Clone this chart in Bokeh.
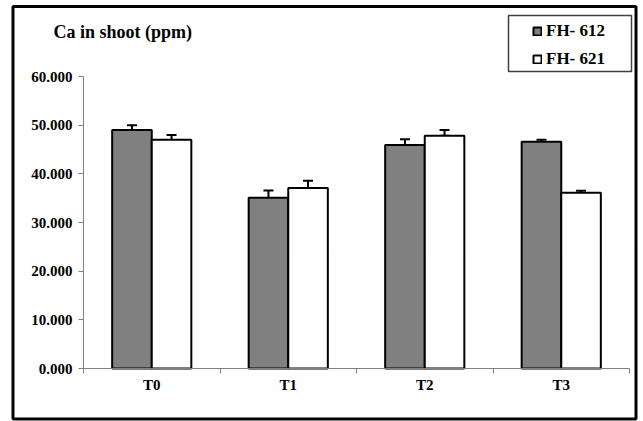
import numpy as np
from bokeh.plotting import figure
from bokeh.models import (ColumnDataSource, FixedTicker, NumeralTickFormatter,
                          Whisker, TeeHead, Legend, LegendItem, BoxAnnotation, Label)
from bokeh.embed import file_html
from bokeh.resources import INLINE

# ---- data ----
categories = ["T0", "T1", "T2", "T3"]
fh612 = [49.0, 35.1, 45.9, 46.6]
fh621 = [47.0, 37.1, 47.8, 36.1]
fh612_lo = [47.9, 33.5, 44.3, 46.2]
fh612_hi = [50.0, 36.6, 47.1, 47.0]
fh621_lo = [45.7, 32.0, 47.8, 35.8]
fh621_hi = [48.0, 38.6, 49.0, 36.5]
series_names = ["FH- 612", "FH- 621"]
y_ticks = [0, 10, 20, 30, 40, 50, 60]
y_min, y_max = 0, 60

SERIF = "Liberation Serif"
W, H = 643, 421
# plot area in page pixels
PL, PR, PT, PB = 83, 629, 76, 368

n = len(categories)
xpx = (PR - PL) / n
ypx = (PB - PT) / (y_max - y_min)
x_range = (-PL / xpx, n + (W - PR) / xpx)
y_range = (y_min - (H - PB) / ypx, y_max + PT / ypx)

idx = np.arange(n) + 0.5
off = 0.145
bw = 0.29

src612 = ColumnDataSource(dict(x=idx - off, top=fh612, lo=fh612_lo, hi=fh612_hi))
src621 = ColumnDataSource(dict(x=idx + off, top=fh621, lo=fh621_lo, hi=fh621_hi))

p = figure(width=W, height=H, output_backend="svg", toolbar_location=None,
           x_range=x_range, y_range=y_range, title=None,
           min_border=0, min_border_left=0, min_border_top=0,
           min_border_right=0, min_border_bottom=0)
p.outline_line_color = None
p.xgrid.visible = False
p.ygrid.visible = False
p.background_fill_color = "white"
p.border_fill_color = "white"

r1 = p.vbar(x="x", top="top", width=bw, bottom=0, source=src612,
            fill_color="#808080", line_color="black", line_width=2)
r2 = p.vbar(x="x", top="top", width=bw, bottom=0, source=src621,
            fill_color="white", line_color="black", line_width=2)

for src in (src612, src621):
    w = Whisker(base="x", lower="lo", upper="hi", source=src,
                line_color="black", line_width=2,
                upper_head=TeeHead(size=10, line_color="black", line_width=2),
                lower_head=TeeHead(size=10, line_color="black", line_width=2))
    p.add_layout(w)

# y axis
ya = p.yaxis[0]
ya.fixed_location = 0
ya.bounds = (y_min, y_max)
ya.ticker = FixedTicker(ticks=y_ticks)
ya.formatter = NumeralTickFormatter(format="0.000")
ya.axis_line_color = "#808080"
ya.major_tick_line_color = "#808080"
ya.major_tick_out = 5
ya.major_tick_in = 0
ya.minor_tick_line_color = None
ya.major_label_text_font = SERIF
ya.major_label_text_font_style = "bold"
ya.major_label_text_font_size = "15px"
ya.major_label_text_color = "black"
ya.major_label_standoff = 6

# x axis
xa = p.xaxis[0]
xa.fixed_location = 0
xa.bounds = (0, n)
xa.ticker = FixedTicker(ticks=list(idx), minor_ticks=list(range(n + 1)))
xa.major_label_overrides = {float(v): c for v, c in zip(idx, categories)}
xa.axis_line_color = "#808080"
xa.major_tick_line_color = None
xa.minor_tick_line_color = "#808080"
xa.minor_tick_out = 5
xa.minor_tick_in = 0
xa.major_label_text_font = SERIF
xa.major_label_text_font_style = "bold"
xa.major_label_text_font_size = "15px"
xa.major_label_text_color = "black"
xa.major_label_standoff = 2

# title (screen units, y measured from bottom)
p.add_layout(Label(x=53, y=H - 31, x_units="screen", y_units="screen",
                   text="Ca in  shoot (ppm)", text_font=SERIF, text_font_style="bold",
                   text_font_size="18px", text_color="black", text_baseline="middle"))

# legend frame
p.add_layout(BoxAnnotation(left=508, right=631, top=H - 15, bottom=H - 71,
                           left_units="screen", right_units="screen",
                           top_units="screen", bottom_units="screen",
                           fill_alpha=0, line_color="#404040", line_alpha=1.0,
                           line_width=1.5, level="overlay"))

legend = Legend(items=[LegendItem(label=series_names[0], renderers=[r1]),
                       LegendItem(label=series_names[1], renderers=[r2])],
                location=(532, H - 69), padding=5, spacing=8,
                glyph_width=10, glyph_height=10, label_height=18, label_standoff=4,
                label_text_font=SERIF, label_text_font_style="bold",
                label_text_font_size="17px", label_text_color="black",
                border_line_color=None, background_fill_alpha=0)
p.add_layout(legend, "center")

# outer border
p.add_layout(BoxAnnotation(left=12.5, right=635.5, top=H - 6, bottom=H - 418.5,
                           left_units="screen", right_units="screen",
                           top_units="screen", bottom_units="screen",
                           fill_alpha=0, line_color="black", line_alpha=1.0,
                           line_width=3, level="overlay"))

open("out.html", "w").write(file_html(p, INLINE))
